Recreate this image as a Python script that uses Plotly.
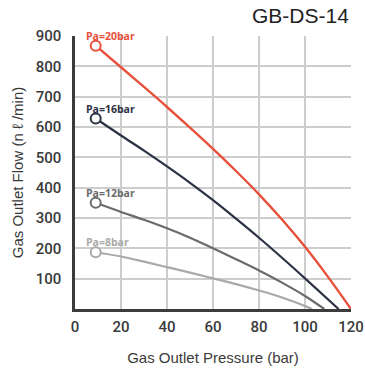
import plotly.graph_objects as go

# Flow curves: gas outlet pressure (bar) vs gas outlet flow (n l/min) per inlet pressure
pa20_x = [9, 20, 30, 40, 50, 60, 70, 80, 90, 100, 110, 120]
pa20_y = [868, 797, 732, 666, 598, 528, 455, 378, 295, 205, 106, 0]

pa16_x = [9, 20, 30, 40, 50, 60, 70, 80, 90, 100, 114.6]
pa16_y = [628, 572, 522, 470, 416, 359, 298, 235, 169, 101, 0]

pa12_x = [9, 20, 30, 40, 50, 60, 70, 80, 90, 100, 108.4]
pa12_y = [350, 320, 294, 266, 235, 200, 164, 127, 87, 43, 0]

pa8_x = [9, 20, 30, 40, 50, 60, 70, 80, 90, 100, 103]
pa8_y = [187, 173, 156, 138, 120, 101, 82, 61, 38, 10, 0]

series_labels = ["Pa=20bar", "Pa=16bar", "Pa=12bar", "Pa=8bar"]
series_colors = ["#e8503c", "#2b3243", "#6b6b6b", "#a9a9a9"]
series = [(pa20_x, pa20_y), (pa16_x, pa16_y), (pa12_x, pa12_y), (pa8_x, pa8_y)]

x_ticks = [0, 20, 40, 60, 80, 100, 120]
y_ticks = [100, 200, 300, 400, 500, 600, 700, 800, 900]

fig = go.Figure()

for (xs, ys), label, color in zip(series, series_labels, series_colors):
    fig.add_trace(go.Scatter(
        x=xs, y=ys, mode="lines",
        line=dict(color=color, width=2.4 if color == "#e8503c" else 2.2,
                  shape="spline", smoothing=1.0),
        hoverinfo="skip", showlegend=False,
    ))
    # open circle at the start of each curve
    fig.add_trace(go.Scatter(
        x=[xs[0]], y=[ys[0]], mode="markers",
        marker=dict(symbol="circle", size=10, color="white",
                    line=dict(color=color, width=2)),
        hoverinfo="skip", showlegend=False,
    ))
    fig.add_annotation(
        x=3.8, y=ys[0], xref="x", yref="y", text="<b>%s</b>" % label,
        showarrow=False, xanchor="left", yanchor="middle", yshift=10,
        font=dict(family="Open Sans", size=10.5, color=color),
    )

fig.add_annotation(
    x=1, y=1, xref="paper", yref="paper", text="GB-DS-14",
    showarrow=False, xanchor="right", yanchor="middle", yshift=21,
    font=dict(family="Liberation Sans", size=21, color="#222222"),
)

grid_color = "#cdcdcd"
tick_font = dict(family="Roboto", size=15, color="#3a3a3a", weight=500)
title_font = dict(family="Liberation Sans", size=15, color="#3a3a3a")

fig.update_xaxes(
    range=[0, 120], tickvals=x_ticks, ticktext=[str(v) for v in x_ticks],
    showgrid=False, zeroline=False, automargin=False,
    minor=dict(tickvals=[20, 40, 60, 80, 100], showgrid=True,
               gridcolor=grid_color, gridwidth=1.5, ticks=""),
    showline=True, linecolor="#3c3c3c", linewidth=2.5,
    ticks="", ticklabelstandoff=2, tickfont=tick_font,
    title=dict(text="Gas Outlet Pressure (bar)", font=title_font, standoff=18),
)
fig.update_yaxes(
    range=[0, 900], tickvals=y_ticks, ticktext=[str(v) for v in y_ticks],
    showgrid=False, zeroline=False, automargin=False,
    minor=dict(tickvals=[100, 200, 300, 400, 500, 600, 700, 800], showgrid=True,
               gridcolor=grid_color, gridwidth=1.5, ticks=""),
    showline=True, linecolor="#3c3c3c", linewidth=2.5,
    ticks="", ticklabelstandoff=8, tickfont=tick_font,
    title=dict(text="Gas Outlet Flow (n ℓ /min)", font=title_font, standoff=9),
)

fig.update_layout(
    width=365, height=372,
    margin=dict(l=75, r=14, t=36, b=63),
    paper_bgcolor="white", plot_bgcolor="white",
    showlegend=False,
)

fig.write_html("out.html")
